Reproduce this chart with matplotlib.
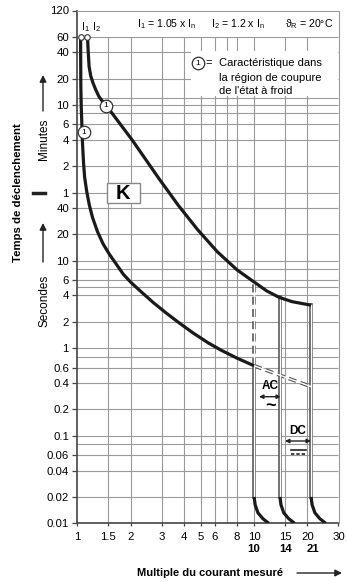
import numpy as np
import matplotlib.pyplot as plt
from matplotlib.lines import Line2D
from matplotlib.patches import Rectangle
from matplotlib.transforms import blended_transform_factory

plt.rcParams['font.family'] = ['Liberation Sans', 'DejaVu Sans']
plt.rcParams['mathtext.fontset'] = 'custom'
plt.rcParams['mathtext.rm'] = 'Liberation Sans'
plt.rcParams['mathtext.it'] = 'Liberation Sans'

W, H = 347, 582

# axis ticks and grid
x_ticks = [1, 1.5, 2, 3, 4, 5, 6, 8, 10, 15, 20, 30]
x_labels = ['1', '1.5', '2', '3', '4', '5', '6', '8', '10', '15', '20', '30']
x_grid = [1.5, 2, 3, 4, 5, 6, 7, 8, 10, 15, 20]
sec_ticks = [0.01, 0.02, 0.04, 0.06, 0.1, 0.2, 0.4, 0.6, 1, 2, 4, 6, 10, 20, 40]
sec_labels = ['0.01', '0.02', '0.04', '0.06', '0.1', '0.2', '0.4', '0.6',
              '1', '2', '4', '6', '10', '20', '40']
min_ticks = [1, 2, 4, 6, 10, 20, 40, 60, 120]
min_labels = ['1', '2', '4', '6', '10', '20', '40', '60', '120']
y_grid = [0.02, 0.04, 0.06, 0.08, 0.1, 0.2, 0.4, 0.6, 0.8, 1, 2, 4, 5, 6, 8, 10,
          20, 40, 60, 120, 240, 360, 480, 600, 720, 1200, 2400, 3600]

# tripping curves (x = multiple of In, t = seconds)
i1_x = [1.044, 1.045, 1.047, 1.052, 1.06, 1.07, 1.085, 1.10, 1.13, 1.17, 1.22, 1.30,
        1.40, 1.52, 1.65, 1.82, 2.0, 2.3, 2.7, 3.2, 3.7, 4.5, 5.5, 6.5, 8.0, 10]
i1_t = [3600, 2000, 1000, 600, 380, 220, 130, 90, 62, 43, 31, 21.5,
        15.5, 11.8, 9.3, 7.0, 5.7, 4.4, 3.3, 2.5, 2.0, 1.5, 1.15, 0.95, 0.77, 0.63]
i2_x = [1.142, 1.151, 1.166, 1.191, 1.227, 1.27, 1.325, 1.389, 1.457, 1.519, 2.04,
        2.88, 3.72, 4.8, 6.2, 8.0, 10, 11.8, 13.9, 16.4, 21]
i2_t = [3600, 2570, 1650, 1290, 1070, 900, 750, 660, 590, 530, 240,
        88, 43, 22.5, 12.6, 7.85, 5.7, 4.5, 3.8, 3.4, 3.1]

# instantaneous release limits
lim_x = [10, 14, 21]
lim_top = [0.63, 3.8, 3.1]
ac_dash_x = [10, 10]
ac_dash_t = [0.63, 5.6]
slope_x = [10, 21]
slope_t = [0.63, 0.364]
tail_fx = [1.0, 1.013, 1.05, 1.12, 1.21]
tail_t = [0.02, 0.0163, 0.0132, 0.0113, 0.01]


def F(px, py):
    return px / W, 1 - py / H


fig = plt.figure(figsize=(W / 100, H / 100), dpi=100)
ax = fig.add_axes([77.3 / W, 1 - 523.3 / H, (338.5 - 77.3) / W, (523.3 - 10.5) / H])
ax.set_xscale('log')
ax.set_yscale('log')
ax.set_xlim(1, 30)
ax.set_ylim(0.01, 7200)

gc = '#9a9a9a'
ax.hlines(y_grid, 1, 30, color=gc, lw=0.8, zorder=1)
ax.vlines(x_grid, 0.01, 3600, color=gc, lw=0.8, zorder=1)

# white area behind the legend
ax.add_patch(Rectangle((4.4, 760), 30 - 4.4, 2500 - 760, fc='white', ec='none', zorder=1.5))

ax.set_xticks(x_ticks)
ax.set_xticklabels(x_labels)
ax.xaxis.set_minor_locator(plt.NullLocator())
ax.set_yticks(sec_ticks + [m * 60 for m in min_ticks])
ax.set_yticklabels(sec_labels + min_labels)
ax.yaxis.set_minor_locator(plt.NullLocator())
ax.tick_params(axis='y', length=3.5, width=0.9, pad=2.5, labelsize=8.2, color='#444')
ax.tick_params(axis='x', length=2.5, width=0.9, pad=3.5, labelsize=8.2, color='#444')
for s in ['top', 'right']:
    ax.spines[s].set_color(gc)
    ax.spines[s].set_linewidth(0.8)
for s in ['left', 'bottom']:
    ax.spines[s].set_color('#444')
    ax.spines[s].set_linewidth(1.2)

# curves
ax.plot(i1_x, i1_t, color='#1a1a1a', lw=2.3, solid_capstyle='butt', solid_joinstyle='round', zorder=5)
ax.plot(i2_x, i2_t, color='#1a1a1a', lw=2.3, solid_capstyle='butt', solid_joinstyle='round', zorder=5)

# double lines
for x0, top in zip(lim_x, lim_top):
    ax.plot([x0, x0], [0.02, top], color='#555', lw=2.6, zorder=3)
    ax.plot([x0, x0], [0.02, top], color='white', lw=1.0, zorder=3.1)
    ax.plot([x0 * f for f in tail_fx], tail_t, color='#1a1a1a', lw=2.3, zorder=5,
            solid_capstyle='butt')
for xs, ts in [(ac_dash_x, ac_dash_t), (slope_x, slope_t)]:
    ax.plot(xs, ts, color='#555', lw=2.6, ls=(0, (2.2, 1.2)), zorder=3)
    ax.plot(xs, ts, color='white', lw=1.0, zorder=3.1)

# start points
ax.plot([i1_x[0], i2_x[0]], [3600, 3600], 'o', ms=4, mfc='white', mec='#333', mew=0.8,
        zorder=6, clip_on=False)

# circled 1 markers on curves
for cx, cy in [(1.457, 590), (1.09, 292)]:
    ax.plot(cx, cy, 'o', ms=9, mfc='white', mec='#333', mew=0.9, zorder=7)
    ax.text(cx, cy, '1', fontsize=6, ha='center', va='center', zorder=8)

# K box
fig.patches.append(Rectangle(F(106.7, 203.3), 33.3 / W, 20.6 / H, transform=fig.transFigure,
                             fc='white', ec='#888', lw=1, zorder=4, figure=fig))
kx, ky = F(123.3, 193.5)
fig.text(kx, ky, 'K', fontsize=14.5, fontweight='bold', ha='center', va='center', zorder=5)

# header
fs = 7.6
fig.text(*F(137, 24), r'I$_1$ = 1.05 x I$_n$', fontsize=fs, va='center')
fig.text(*F(211, 24), r'I$_2$ = 1.2 x I$_n$', fontsize=fs, va='center')
fig.text(*F(285, 24), r'$\vartheta_R$ = 20°C', fontsize=fs, va='center')
fig.text(*F(81, 27), r'I$_1$', fontsize=fs, va='center')
fig.text(*F(92, 27), r'I$_2$', fontsize=fs, va='center')

# legend
lx, ly = F(198, 63.3)
fig.add_artist(Line2D([lx], [ly], marker='o', ms=9, mfc='white', mec='#333', mew=0.9,
                      transform=fig.transFigure))
fig.text(lx, ly, '1', fontsize=6, ha='center', va='center')
fig.text(*F(205, 63.3), '=', fontsize=8, va='center')
for txt, py in [('Caractéristique dans', 63.3), ('la région de coupure', 77.7),
                ('de l\'état à froid', 91.5)]:
    fig.text(*F(219, py), txt, fontsize=8, va='center')

# AC / DC marks
fig.text(*F(270, 386), 'AC', fontsize=8.5, fontweight='bold', ha='center', va='center')
fig.text(*F(270, 406), '~', fontsize=13, fontweight='bold', ha='center', va='center')
fig.text(*F(298, 431), 'DC', fontsize=8.5, fontweight='bold', ha='center', va='center')
ax.annotate('', xy=F(281, 396.7), xytext=F(259, 396.7), xycoords='figure fraction',
            arrowprops=dict(arrowstyle='<|-|>', color='#222', lw=1, mutation_scale=6,
                            shrinkA=0, shrinkB=0), annotation_clip=False)
ax.annotate('', xy=F(311, 441), xytext=F(285, 441), xycoords='figure fraction',
            arrowprops=dict(arrowstyle='<|-|>', color='#222', lw=1, mutation_scale=6,
                            shrinkA=0, shrinkB=0), annotation_clip=False)
fig.add_artist(Line2D([F(291, 0)[0], F(306, 0)[0]], [F(0, 449.5)[1]] * 2, color='#222',
                      lw=1.2, transform=fig.transFigure))
fig.add_artist(Line2D([F(291, 0)[0], F(306, 0)[0]], [F(0, 453.5)[1]] * 2, color='#222',
                      lw=1.2, ls=(0, (2, 1.2)), transform=fig.transFigure))

# bold second row of x labels
tr = blended_transform_factory(ax.transData, fig.transFigure)
for xv, lab in [(10, '10'), (15, '14'), (21.5, '21')]:
    ax.text(xv, F(0, 549.5)[1], lab, transform=tr, fontsize=8.2, fontweight='bold',
            ha='center', va='center')

# axis labels
fig.text(*F(210, 573), 'Multiple du courant mesuré', fontsize=8, fontweight='bold',
         ha='center', va='center')
ax.annotate('', xy=F(342, 573), xytext=F(297, 573), xycoords='figure fraction',
            arrowprops=dict(arrowstyle='-|>', color='#222', lw=1, mutation_scale=10,
                            shrinkA=0, shrinkB=0), annotation_clip=False)
fig.text(*F(18, 193), 'Temps de déclenchement', fontsize=8.2, fontweight='bold',
         rotation=90, ha='center', va='center')
fig.text(*F(44, 139), 'Minutes', fontsize=8.5, rotation=90, ha='center', va='center')
fig.text(*F(44, 301), 'Secondes', fontsize=8.5, rotation=90, ha='center', va='center')
ax.annotate('', xy=F(43, 75), xytext=F(43, 111), xycoords='figure fraction',
            arrowprops=dict(arrowstyle='-|>', color='#222', lw=1, mutation_scale=10,
                            shrinkA=0, shrinkB=0), annotation_clip=False)
ax.annotate('', xy=F(43, 223), xytext=F(43, 262), xycoords='figure fraction',
            arrowprops=dict(arrowstyle='-|>', color='#222', lw=1, mutation_scale=10,
                            shrinkA=0, shrinkB=0), annotation_clip=False)
fig.add_artist(Line2D([F(33, 0)[0], F(45, 0)[0]], [F(0, 193)[1]] * 2, color='#222',
                      lw=2.5, transform=fig.transFigure))

fig.savefig('out.png', dpi=100)
